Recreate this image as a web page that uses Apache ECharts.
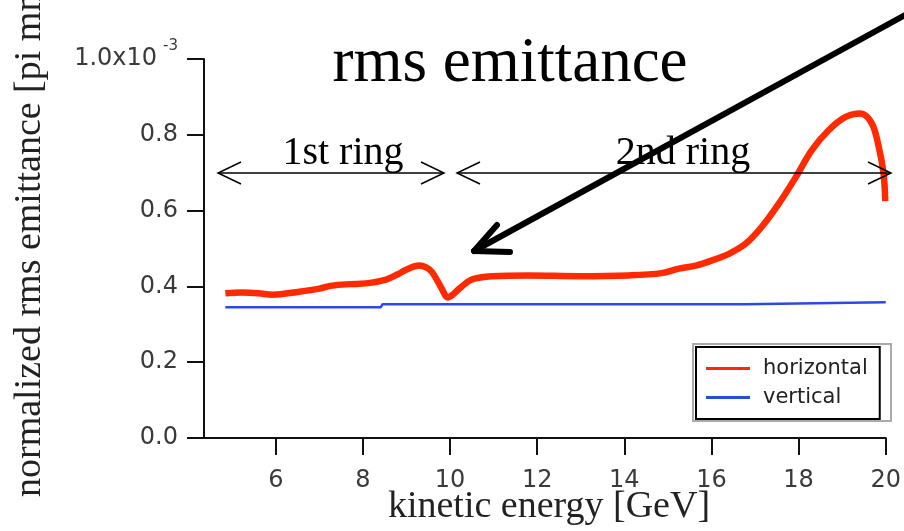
<!DOCTYPE html>
<html>
<head>
<meta charset="utf-8">
<script src="https://cdn.jsdelivr.net/npm/echarts@6/dist/echarts.min.js"></script>
<style>
html,body{margin:0;padding:0;background:#fff;}
#c{width:904px;height:531px;}
</style>
</head>
<body>
<div id="c"></div>
<script>
// ---- data (emittance in units of 1e-3) ----
const energyH = [4.84, 5.23, 5.6, 5.92, 6.54, 7.0, 7.29, 7.7, 8.07, 8.53, 8.8, 8.99, 9.29, 9.45, 9.59, 9.79, 9.95, 10.08, 10.21, 10.5, 10.96, 11.81, 12.96, 14.1, 14.86, 15.25, 15.64, 16.0, 16.4, 16.79, 17.16, 17.55, 17.94, 18.3, 18.69, 19.08, 19.42, 19.68, 19.84, 19.95, 19.99];
const emitH   = [0.382, 0.384, 0.382, 0.378, 0.386, 0.394, 0.402, 0.406, 0.408, 0.418, 0.432, 0.444, 0.455, 0.450, 0.437, 0.398, 0.371, 0.380, 0.394, 0.418, 0.427, 0.429, 0.427, 0.429, 0.435, 0.447, 0.455, 0.468, 0.486, 0.513, 0.558, 0.619, 0.689, 0.759, 0.812, 0.847, 0.856, 0.830, 0.768, 0.698, 0.625];
const energyV = [4.84, 8.41, 8.45, 16.76, 16.8, 20.0];
const emitV   = [0.345, 0.345, 0.353, 0.353, 0.358, 0.358];
const xTicks  = [6, 8, 10, 12, 14, 16, 18, 20];
const seriesNames = ['horizontal', 'vertical'];

const zip = (a, b) => a.map((v, i) => [v, b[i]]);
const chart = echarts.init(document.getElementById('c'), null, {renderer: 'canvas'});

const SERIF = '"Liberation Serif", "Times New Roman", serif';
const SANS = '"DejaVu Sans", sans-serif';
const labRich = {
  n: {fontSize: 24, fontFamily: SANS, color: '#3a3a3a'},
  a: {fontSize: 24, fontFamily: SANS, color: '#3a3a3a', lineHeight: 40},
  b: {fontSize: 15, fontFamily: SANS, color: '#3a3a3a', verticalAlign: 'top', lineHeight: 15, padding: [0, 0, 0, 6]}
};

chart.setOption({
  animation: false,
  backgroundColor: '#fff',
  textStyle: {fontFamily: SANS},
  grid: {left: 204, right: 17, top: 59, bottom: 93, containLabel: false},
  xAxis: {
    type: 'value', min: 4.35, max: 20,
    axisLine: {show: true, lineStyle: {color: '#111', width: 2}},
    axisTick: {show: true, length: 17, customValues: xTicks, lineStyle: {color: '#111', width: 2}},
    axisLabel: {customValues: xTicks, margin: 31, fontSize: 24, color: '#3a3a3a',
      formatter: v => '{n|' + v + '}', rich: labRich},
    splitLine: {show: false}
  },
  yAxis: {
    type: 'value', min: 0, max: 1, interval: 0.2,
    axisLine: {show: true, lineStyle: {color: '#111', width: 2}},
    axisTick: {show: true, length: 17, lineStyle: {color: '#111', width: 2}},
    axisLabel: {
      margin: 26, fontSize: 24, color: '#3a3a3a',
      formatter: v => Math.abs(v - 1) < 1e-9 ? '{a|1.0x10}{b|-3}' : '{n|' + v.toFixed(1) + '}',
      rich: labRich
    },
    splitLine: {show: false}
  },
  legend: {
    orient: 'vertical', left: 696, top: 347,
    data: seriesNames,
    icon: 'rect', itemWidth: 44, itemHeight: 3, itemGap: 8,
    padding: [11, 12, 11, 10],
    borderColor: '#000', borderWidth: 2, backgroundColor: '#fff',
    textStyle: {fontFamily: SANS, fontSize: 21, color: '#222', padding: [0, 0, 0, 8]}
  },
  series: [
    {
      name: seriesNames[0], type: 'line', data: zip(energyH, emitH),
      showSymbol: false, symbol: 'none', smooth: 0.35,
      lineStyle: {color: '#ff2a00', width: 6.5}, itemStyle: {color: '#ff2a00'}, z: 3
    },
    {
      name: seriesNames[1], type: 'line', data: zip(energyV, emitV),
      showSymbol: false, symbol: 'none',
      lineStyle: {color: '#2a4be0', width: 2.5}, itemStyle: {color: '#2a4be0'}, z: 2
    }
  ],
  graphic: [
    {type: 'text', x: 510, y: 64, style: {text: 'rms emittance', font: '63px ' + SERIF, fill: '#000', textAlign: 'center', textVerticalAlign: 'middle'}, z: 10},
    {type: 'text', x: 549, y: 507, style: {text: 'kinetic energy [GeV]', font: '38px ' + SERIF, fill: '#222', textAlign: 'center', textVerticalAlign: 'middle'}, z: 10},
    {type: 'text', x: 30, y: 497, rotation: Math.PI / 2, style: {text: 'normalized rms emittance [pi mm mrad]', font: '38px ' + SERIF, fill: '#222', textAlign: 'left', textVerticalAlign: 'middle'}, z: 10},
    {type: 'rect', shape: {x: 693, y: 344, width: 198, height: 77}, style: {fill: null, stroke: '#aaa', lineWidth: 2}, z: 1},
    {type: 'line', shape: {x1: 218, y1: 173, x2: 444, y2: 173}, style: {stroke: '#000', lineWidth: 1.5}, z: 10},
    {type: 'polyline', shape: {points: [[241, 162], [218, 173], [241, 184]]}, style: {stroke: '#000', lineWidth: 1.5, fill: null}, z: 10},
    {type: 'polyline', shape: {points: [[421, 162], [444, 173], [421, 184]]}, style: {stroke: '#000', lineWidth: 1.5, fill: null}, z: 10},
    {type: 'text', x: 343, y: 153, style: {text: '1st ring', font: '40px ' + SERIF, fill: '#000', textAlign: 'center', textVerticalAlign: 'middle'}, z: 10},
    {type: 'line', shape: {x1: 457, y1: 173, x2: 891, y2: 173}, style: {stroke: '#000', lineWidth: 1.5}, z: 10},
    {type: 'polyline', shape: {points: [[480, 162], [457, 173], [480, 184]]}, style: {stroke: '#000', lineWidth: 1.5, fill: null}, z: 10},
    {type: 'polyline', shape: {points: [[868, 162], [891, 173], [868, 184]]}, style: {stroke: '#000', lineWidth: 1.5, fill: null}, z: 10},
    {type: 'text', x: 683, y: 153, style: {text: '2nd ring', font: '40px ' + SERIF, fill: '#000', textAlign: 'center', textVerticalAlign: 'middle'}, z: 10},
    {type: 'line', shape: {x1: 916, y1: 9, x2: 474, y2: 251}, style: {stroke: '#000', lineWidth: 6, lineCap: 'round'}, z: 11},
    {type: 'polyline', shape: {points: [[497, 225], [474, 251], [510, 252]]}, style: {stroke: '#000', lineWidth: 6, fill: null, lineCap: 'round', lineJoin: 'round'}, z: 11}
  ]
});
</script>
</body>
</html>
